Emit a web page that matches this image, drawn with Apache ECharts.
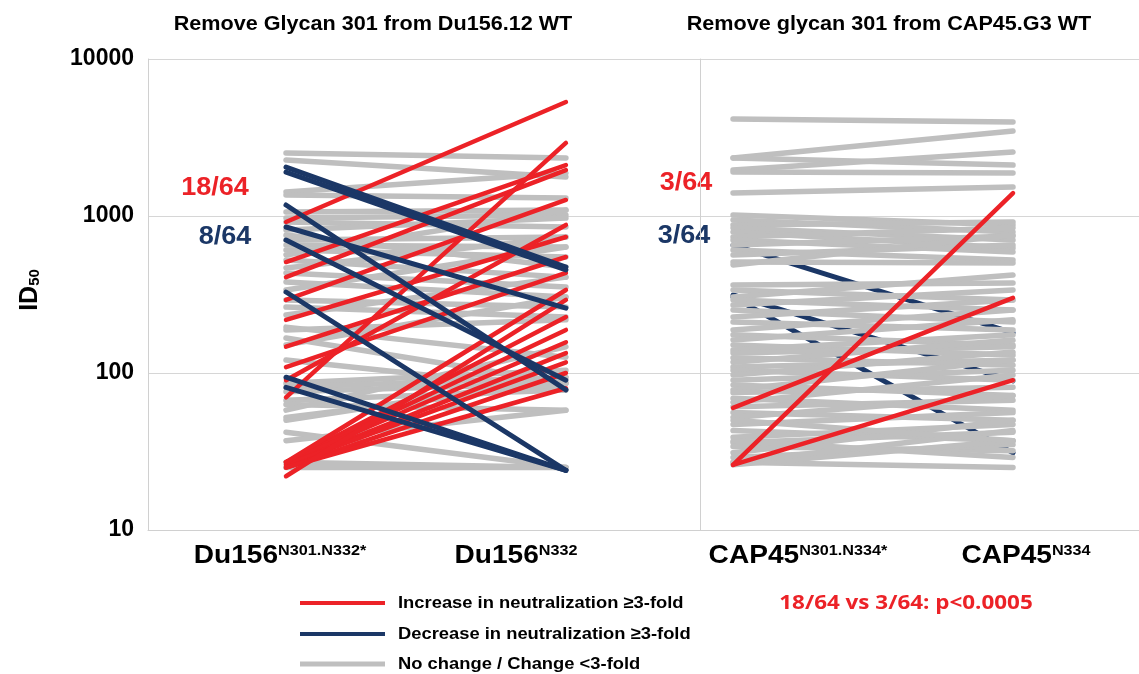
<!DOCTYPE html>
<html><head><meta charset="utf-8">
<script src="https://cdn.jsdelivr.net/npm/echarts@6/dist/echarts.min.js"></script>
<style>html,body{margin:0;padding:0;background:#fff}#c{width:1139px;height:674px}</style>
</head><body><div id="c"></div>
<script>
// ---------- data ----------
const panelTitles = ['Remove Glycan 301 from Du156.12 WT', 'Remove glycan 301 from CAP45.G3 WT'];
const duCategories = [['Du156', 'N301.N332*'], ['Du156', 'N332']];
const capCategories = [['CAP45', 'N301.N334*'], ['CAP45', 'N334']];
const yTicks = [10, 100, 1000, 10000];
const yAxisName = ['ID', '50'];
const duCounts = ['18/64', '8/64'];
const capCounts = ['3/64', '3/64'];
const pValueText = '18/64 vs 3/64: p<0.0005';
const legendLabels = ['Increase in neutralization \u22653-fold', 'Decrease in neutralization \u22653-fold', 'No change / Change <3-fold'];

// Du156 panel: A = Du156 N301.N332*, B = Du156 N332
const duRedA = [916, 509, 408, 292, 218, 147, 109, 70, 27, 27, 27, 26, 26, 25, 25, 22, 27, 90];
const duRedB = [5320, 2110, 1960, 1265, 735, 548, 434, 2920, 227, 188, 157, 134, 117, 100, 80, 292, 338, 877];
const duNavyA = [2050, 1905, 1175, 851, 328, 94, 81, 703];
const duNavyB = [473, 453, 78, 259, 24, 24, 24, 90];
const duGreyA = [2520, 2275, 1420, 1360, 1060, 970, 916, 815, 703, 653, 607, 565, 525, 467, 434, 380, 338, 292, 263, 234,
  196, 167, 151, 121, 86, 81, 76, 67, 63, 52, 42, 37, 27, 25, 50, 58, 188, 757];
const duGreyB = [2340, 1770, 1880, 1300, 1090, 1015, 851, 970, 735, 635, 548, 1090, 408, 735, 353, 305, 635, 263, 227, 408,
  126, 86, 305, 78, 104, 94, 86, 78, 58, 86, 25, 58, 25, 25, 94, 147, 218, 473];

// CAP45 panel: A = CAP45 N301.N334*, B = CAP45 N334
const capRedA = [26, 26, 60];
const capRedB = [1400, 90, 301];
const capNavyA = [653, 305, 314];
const capNavyB = [180, 31, 89];
const capGreyA = [4150, 2340, 2340, 1960, 1905, 1400, 1015, 944, 877, 840, 791, 735, 703, 653, 607, 565, 509, 488,
  364, 338, 305, 292, 271, 252, 227, 211, 188, 175, 162, 151, 140, 134, 125, 117, 109, 104, 97, 90, 84, 78, 75, 69, 65,
  61, 56, 52, 47, 43, 39, 36, 34, 31, 29, 27, 26, 27, 37, 50];
const capGreyB = [3970, 3480, 2110, 2560, 1880, 1530, 877, 791, 916, 703, 625, 840, 590, 746, 525, 653, 502, 757,
  374, 292, 421, 252, 338, 211, 292, 188, 252, 151, 218, 130, 175, 147, 112, 162, 121, 90, 136, 104, 72, 121, 81, 58, 97,
  67, 50, 72, 56, 37, 47, 42, 32, 50, 35, 25, 37, 43, 29, 37];

// ---------- style ----------
const RED = '#ec2227', NAVY = '#1b3766', GREY = '#bfbfbf';
const FONT = '"Liberation Sans", Arial, sans-serif';
const AXISC = '#d0d0d0';

function pairSeries(A, B, color, width, idx) {
  return A.map((a, i) => ({
    type: 'line', xAxisIndex: idx, yAxisIndex: idx,
    data: [[0, a], [1, B[i]]],
    symbol: 'none', silent: true, animation: false,
    lineStyle: { color: color, width: width, cap: 'round' }
  }));
}

const series = [].concat(
  pairSeries(duGreyA, duGreyB, GREY, 5.5, 0),
  pairSeries(duRedA, duRedB, RED, 4.5, 0),
  pairSeries(duNavyA, duNavyB, NAVY, 5, 0),
  pairSeries(capNavyA, capNavyB, NAVY, 5, 1),
  pairSeries(capGreyA, capGreyB, GREY, 5.5, 1),
  pairSeries(capRedA, capRedB, RED, 4.5, 1)
);

function yAx(idx, showLabels) {
  return {
    type: 'log', logBase: 10, min: yTicks[0], max: yTicks[yTicks.length - 1], gridIndex: idx,
    axisLine: { show: true, onZero: false, lineStyle: { color: AXISC, width: 1 } },
    axisTick: { show: false },
    splitLine: { show: true, lineStyle: { color: '#d6d6d6', width: 1 } },
    axisLabel: {
      show: showLabels, margin: 14, color: '#000', fontFamily: FONT, fontWeight: 'bold', fontSize: 23,
      formatter: v => String(Math.round(v))
    }
  };
}
function xAx(idx, min, max) {
  return {
    type: 'value', gridIndex: idx, min: min, max: max,
    axisLine: { show: true, onZero: false, lineStyle: { color: AXISC, width: 1 } },
    axisTick: { show: false }, splitLine: { show: false }, axisLabel: { show: false }
  };
}

function catLabel(cat, cx) {
  return {
    type: 'text', x: cx, y: 556, scaleX: 1.08, silent: true,
    style: {
      text: '{a|' + cat[0] + '}{b|' + cat[1] + '}', align: 'center', verticalAlign: 'middle',
      rich: {
        a: { fontFamily: FONT, fontWeight: 'bold', fontSize: 26, fill: '#000', verticalAlign: 'bottom' },
        b: { fontFamily: FONT, fontWeight: 'bold', fontSize: 15, fill: '#000', verticalAlign: 'top' }
      }
    }
  };
}
function plainText(txt, x, y, size, color, align, sx, family) {
  return {
    type: 'text', x: x, y: y, scaleX: sx || 1, silent: true,
    style: { text: txt, fontFamily: family || FONT, fontWeight: 'bold', fontSize: size, fill: color, align: align || 'center', verticalAlign: 'middle' }
  };
}

const graphic = [
  plainText(panelTitles[0], 373, 24, 20, '#000', 'center', 1.08),
  plainText(panelTitles[1], 889, 24, 20, '#000', 'center', 1.08),
  catLabel(duCategories[0], 280), catLabel(duCategories[1], 516),
  catLabel(capCategories[0], 798), catLabel(capCategories[1], 1026),
  plainText(duCounts[0], 215, 188, 25, RED, 'center', 1.08), plainText(duCounts[1], 225, 237, 25, NAVY, 'center', 1.08),
  plainText(capCounts[0], 686, 183, 25, RED, 'center', 1.08), plainText(capCounts[1], 684, 236, 25, NAVY, 'center', 1.08),
  {
    type: 'text', x: 30, y: 290, rotation: Math.PI / 2, silent: true,
    style: {
      text: '{a|' + yAxisName[0] + '}{b|' + yAxisName[1] + '}', align: 'center', verticalAlign: 'middle',
      rich: {
        a: { fontFamily: FONT, fontWeight: 'bold', fontSize: 25, fill: '#000', verticalAlign: 'top' },
        b: { fontFamily: FONT, fontWeight: 'bold', fontSize: 15, fill: '#000', verticalAlign: 'bottom' }
      }
    }
  },
  { type: 'line', silent: true, shape: { x1: 300, y1: 603, x2: 385, y2: 603 }, style: { stroke: RED, lineWidth: 4 } },
  { type: 'line', silent: true, shape: { x1: 300, y1: 634, x2: 385, y2: 634 }, style: { stroke: NAVY, lineWidth: 4 } },
  { type: 'line', silent: true, shape: { x1: 300, y1: 664, x2: 385, y2: 664 }, style: { stroke: GREY, lineWidth: 5 } },
  plainText(legendLabels[0], 398, 603, 17, '#000', 'left', 1.08),
  plainText(legendLabels[1], 398, 634, 17, '#000', 'left', 1.08),
  plainText(legendLabels[2], 398, 664, 17, '#000', 'left', 1.08),
  plainText(pValueText, 906, 604, 19, RED, 'center', 1.18, '"Open Sans", "Liberation Sans", sans-serif')
];

const chart = echarts.init(document.getElementById('c'), null, { renderer: 'canvas' });
chart.setOption({
  animation: false,
  backgroundColor: '#fff',
  grid: [
    { left: 148, right: 439, top: 59, bottom: 144 },
    { left: 700, right: 0, top: 59, bottom: 144 }
  ],
  xAxis: [xAx(0, -0.493, 1.479), xAx(1, -0.118, 1.45)],
  yAxis: [yAx(0, true), yAx(1, false)],
  series: series,
  graphic: graphic
});
</script>
</body></html>
